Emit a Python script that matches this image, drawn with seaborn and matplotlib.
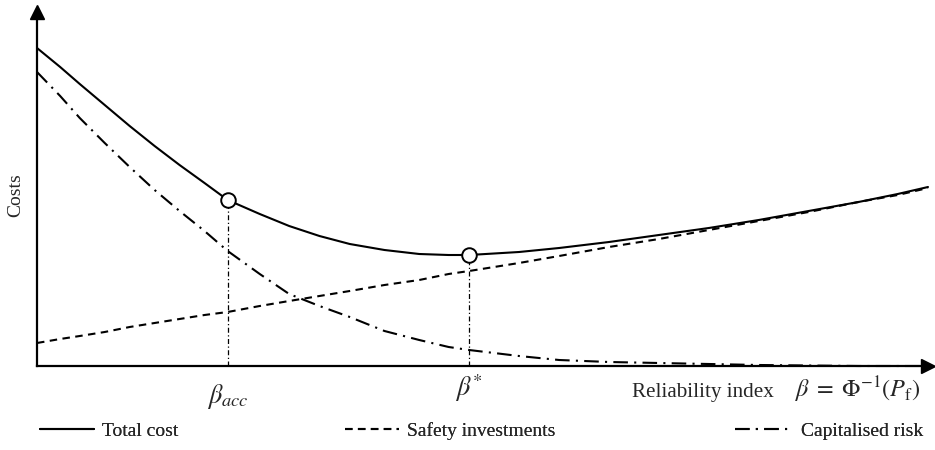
import matplotlib
matplotlib.use("Agg")
import matplotlib.pyplot as plt
from matplotlib.lines import Line2D
import seaborn as sns
import pandas as pd

# ---- data ----
beta = [0.00, 0.26, 0.48, 0.76, 1.04, 1.32, 1.60, 1.88, 2.14, 2.50, 2.83, 3.17, 3.51,
        3.90, 4.29, 4.62, 4.85, 5.41, 5.86, 6.42, 6.98, 7.54, 8.10, 8.66, 9.22, 9.66, 10.00]
total_cost = [3.18, 2.99, 2.82, 2.61, 2.40, 2.20, 2.01, 1.83, 1.66, 1.52, 1.40, 1.30, 1.22,
              1.16, 1.12, 1.11, 1.11, 1.14, 1.18, 1.24, 1.31, 1.38, 1.46, 1.55, 1.64, 1.72, 1.79]
safety_investments = [0.23, 0.27, 0.30, 0.34, 0.39, 0.43, 0.47, 0.51, 0.54, 0.60, 0.65, 0.70, 0.75,
                      0.81, 0.86, 0.92, 0.95, 1.03, 1.10, 1.19, 1.27, 1.36, 1.45, 1.54, 1.64, 1.71, 1.78]
capitalised_risk = [2.94, 2.70, 2.48, 2.23, 1.99, 1.76, 1.55, 1.35, 1.15, 0.92, 0.72, 0.60, 0.49,
                    0.35, 0.26, 0.19, 0.16, 0.10, 0.06, 0.04, 0.03, 0.02, 0.01, 0.005, 0.0, 0.0, 0.0]

marker_beta = [2.14, 4.85]
marker_cost = [1.66, 1.11]
marker_labels = [r"$\beta_{acc}$", r"$\beta^{*}$"]

legend_labels = ["Total cost", "Safety investments", "Capitalised risk"]

# ---- style ----
sns.set_style("white")
plt.rcParams["font.family"] = ["Liberation Serif", "DejaVu Serif"]
plt.rcParams["mathtext.fontset"] = "stix"

W, H = 935, 450
fig = plt.figure(figsize=(W / 100, H / 100), dpi=100)
ax = fig.add_axes([37 / W, 84 / H, (928 - 37) / W, (366 - 12) / H])

df = pd.DataFrame({"beta": beta, "total": total_cost,
                   "safety": safety_investments, "risk": capitalised_risk})

ls_total = "-"
ls_safety = (0, (3.6, 2.6))
ls_risk = (0, (7, 3, 1, 3))
lw = 1.5

sns.lineplot(data=df, x="beta", y="total", ax=ax, color="black", lw=lw,
             linestyle=ls_total, clip_on=False, zorder=3)
sns.lineplot(data=df, x="beta", y="safety", ax=ax, color="black", lw=lw,
             linestyle=ls_safety, clip_on=False, zorder=2)
sns.lineplot(data=df, x="beta", y="risk", ax=ax, color="black", lw=lw,
             linestyle=ls_risk, clip_on=False, zorder=2)

# vertical reference lines
ax.vlines(marker_beta, 0, marker_cost, colors="black", lw=0.9,
          linestyles=[(0, (4, 2, 1, 2))], zorder=1)

sns.scatterplot(x=marker_beta, y=marker_cost, ax=ax, s=110, color="white",
                edgecolor="black", linewidth=1.4, zorder=5, legend=False)

ax.set_xlim(0, 10.0)
ax.set_ylim(0, 3.54)
ax.set_xticks([])
ax.set_yticks([])
ax.set_xlabel("")
ax.set_ylabel("")
for s in ["top", "right"]:
    ax.spines[s].set_visible(False)
for s in ["left", "bottom"]:
    ax.spines[s].set_linewidth(1.6)
    ax.spines[s].set_color("black")

# arrow heads
ax.plot(1, 0, ">", color="black", markersize=10, transform=ax.transAxes, clip_on=False, zorder=6)
ax.plot(0, 1, "^", color="black", markersize=10, transform=ax.transAxes, clip_on=False, zorder=6)

# beta labels under axis
for b, lab, dy in zip(marker_beta, marker_labels, [-22, -16]):
    ax.annotate(lab, xy=(b, 0), xytext=(0, dy), textcoords="offset points",
                ha="center", va="center", fontsize=19)

fig.text(632 / W, 1 - 392 / H, "Reliability index", ha="left", va="center", fontsize=15.2)
fig.text(795 / W, 1 - 390 / H, r"$\beta\;=\;\Phi^{-1}(P_{\mathrm{f}})$",
         ha="left", va="center", fontsize=17.5)
fig.text(16 / W, 1 - 195 / H, "Costs", rotation=90, ha="center", va="center", fontsize=14)

# legends
handles = [Line2D([], [], color="black", lw=lw, linestyle=ls_total),
           Line2D([], [], color="black", lw=lw, linestyle=ls_safety),
           Line2D([], [], color="black", lw=lw, linestyle=ls_risk)]
xs = [40, 345, 735]
hl = [2.8, 2.8, 3.0]
for h, lab, x0, L in zip(handles, legend_labels, xs, hl):
    leg = fig.legend([h], [lab], loc="center left", bbox_to_anchor=(x0 / W, 1 - 431 / H),
                     frameon=False, fontsize=14, handlelength=L, handletextpad=0.4,
                     borderpad=0, borderaxespad=0)
    fig.add_artist(leg)

fig.savefig("out.png", dpi=100)
